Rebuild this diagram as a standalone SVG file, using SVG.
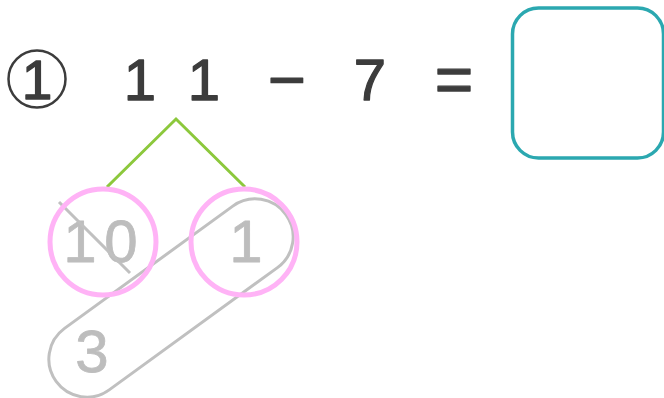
<svg xmlns="http://www.w3.org/2000/svg" width="664" height="398" viewBox="0 0 664 398">
<style>
.eq{font-family:"Liberation Sans",Arial,sans-serif;font-size:58px;fill:#3c3c3c;stroke:#3c3c3c;stroke-width:1.3;stroke-linejoin:round;text-anchor:middle}
.gt{font-family:"Liberation Sans",Arial,sans-serif;font-size:60px;fill:#bdbdbd;stroke:#bdbdbd;stroke-width:0.8;stroke-linejoin:round;text-anchor:middle}
.pink{fill:none;stroke:#ffb3f6;stroke-width:5}
.conn{fill:none;stroke:#8cc83c;stroke-width:3}
</style>
<rect width="664" height="398" fill="#ffffff"/>
<g id="problem-number">
<circle cx="37" cy="79" r="28.5" fill="none" stroke="#3c3c3c" stroke-width="2.5"/>
<text class="eq" x="37" y="99" style="font-size:55px">1</text>
</g>
<g id="equation">
<text class="eq" x="140" y="100">1</text>
<text class="eq" x="204" y="100">1</text>
<text class="eq" x="287" y="102" style="font-size:65px">−</text>
<text class="eq" x="370" y="100">7</text>
<text class="eq" x="454" y="102" style="font-size:66px">=</text>
</g>
<g id="answer-box">
<rect x="512.5" y="8" width="151" height="150" rx="26" fill="none" stroke="#2ba8b0" stroke-width="3.5"/>
</g>
<g id="connectors">
<path class="conn" d="M107,187 L176,119 L245,187"/>
</g>
<g id="capsule-3">
<rect x="29" y="260" width="284" height="76" rx="38" fill="none" stroke="#c0c0c0" stroke-width="3" transform="rotate(-36 171 298)"/>
<text class="gt" x="92" y="372">3</text>
</g>
<g id="node-10">
<text class="gt" y="262"><tspan x="80">1</tspan><tspan x="121">0</tspan></text>
<line x1="59" y1="202" x2="130" y2="273" stroke="#c0c0c0" stroke-width="3"/>
<circle class="pink" cx="103" cy="242" r="53"/>
</g>
<g id="node-1">
<text class="gt" x="246" y="262">1</text>
<circle class="pink" cx="244" cy="242" r="53"/>
</g>
</svg>
